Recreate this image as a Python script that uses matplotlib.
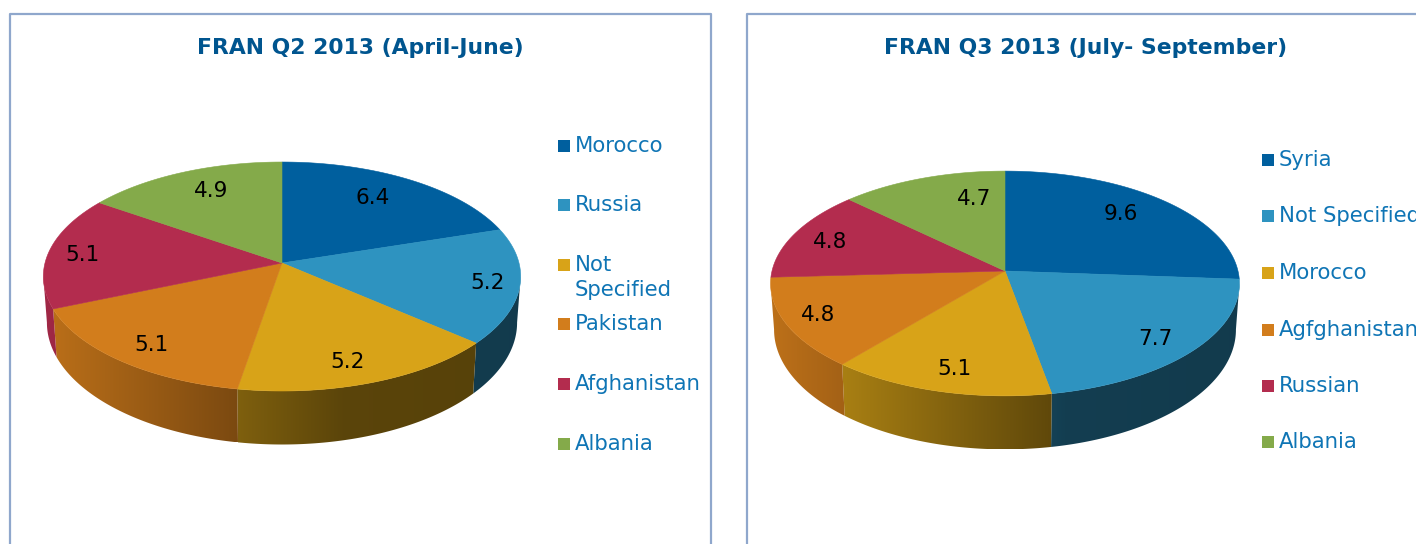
import numpy as np
from matplotlib import pyplot as plt
from matplotlib.colors import to_rgb
from matplotlib.patches import Polygon, Rectangle

# chart data
q2_title = 'FRAN Q2 2013 (April-June)'
q2_names = ['Morocco', 'Russia', 'Not\nSpecified', 'Pakistan', 'Afghanistan', 'Albania']
q2_values = [6.4, 5.2, 5.2, 5.1, 5.1, 4.9]

q3_title = 'FRAN Q3 2013 (July- September)'
q3_names = ['Syria', 'Not Specified', 'Morocco', 'Agfghanistan', 'Russian', 'Albania']
q3_values = [9.6, 7.7, 5.1, 4.8, 4.8, 4.7]

colors = ['#005f9e', '#2e93c0', '#d8a318', '#d27d1c', '#b32c4e', '#84aa4a']

# layout, in pixels of the picture
q2_label_pos = [(373, 198), (487, 283), (347, 362), (151, 345), (82, 255), (211, 191)]
q3_label_pos = [(1121, 214), (1155, 339), (954, 369), (818, 315), (830, 242), (974, 199)]
q2_legend_y = [146, 205, 265, 324, 384, 444]
q3_legend_y = [160, 216, 273, 330, 386, 442]

frame_color = '#8fa7cc'
legend_color = '#0f75b5'
title_color = '#00558f'

# how dark the side wall gets from left to right
shade_x = [0, 0.155, 0.39, 0.63, 1]
shade_k = [0.9, 0.78, 0.6, 0.42, 0.4]


def project(t, cx, cy, c, a, b):
    # circle angle (clockwise from the top) to screen, with perspective
    u = np.sin(t)
    v = -np.cos(t)
    den = 1 + b * v
    return cx + c * u / den, cy + a * v / den


def wall_bottom(x, y, cx, y_front):
    depth = 53.5 - (y_front - y) * 0.065
    return cx + (x - cx) * 0.985, y + depth


def draw_pie(ax, values, cx, cy, c, a, b):
    fracs = np.array(values) / sum(values)
    edges = np.concatenate([[0], np.cumsum(fracs)]) * 2 * np.pi
    _, y_front = project(np.pi, cx, cy, c, a, b)
    left = cx - c * 1.01
    width = 2 * c * 1.01

    # only the part of the rim between the left and right extremes shows a wall
    tt = np.linspace(0, 2 * np.pi, 1441)
    xx, _ = project(tt, cx, cy, c, a, b)
    t_right, t_left = tt[np.argmax(xx)], tt[np.argmin(xx)]

    for i in range(len(values)):
        t0 = max(edges[i], t_right)
        t1 = min(edges[i + 1], t_left)
        if t1 <= t0:
            continue
        ts = np.linspace(t0, t1, 120)
        x, y = project(ts, cx, cy, c, a, b)
        bx, by = wall_bottom(x, y, cx, y_front)
        pts = list(zip(x, y)) + list(zip(bx[::-1], by[::-1]))
        poly = Polygon(pts, transform=ax.transData)

        x0, x1 = min(x.min(), bx.min()), max(x.max(), bx.max())
        y0, y1 = min(y.min(), by.min()), max(y.max(), by.max())
        xs = np.linspace(x0, x1, 200)
        k = np.interp((xs - left) / width, shade_x, shade_k)
        rgb = np.outer(k, to_rgb(colors[i]))[None, :, :]
        im = ax.imshow(rgb, extent=(x0, x1, y1, y0), aspect='auto', zorder=2,
                       interpolation='bilinear')
        im.set_clip_path(poly)

    for i in range(len(values)):
        ts = np.linspace(edges[i], edges[i + 1], 120)
        x, y = project(ts, cx, cy, c, a, b)
        pts = [(cx, cy)] + list(zip(x, y))
        ax.add_patch(Polygon(pts, facecolor=colors[i], edgecolor=colors[i], lw=0.4, zorder=3))


def draw_panel(ax, title, title_x, names, values, label_pos, legend_x, legend_y):
    ax.text(title_x, 48, title, color=title_color, fontsize=15.75, fontweight='bold',
            ha='center', va='center')
    for v, (x, y) in zip(values, label_pos):
        ax.text(x, y, '%.1f' % v, color='black', fontsize=15.5, ha='center', va='center', zorder=5)
    for i, name in enumerate(names):
        y = legend_y[i]
        ax.add_patch(Rectangle((legend_x, y - 6), 12, 12, facecolor=colors[i], edgecolor='none'))
        ax.text(legend_x + 17, y - 10, name, color=legend_color, fontsize=15.3, va='top',
                linespacing=1.3)


fig = plt.figure(figsize=(14.16, 5.44), dpi=100)
ax = fig.add_axes([0, 0, 1, 1])

# panel frames run off the bottom and right of the picture
ax.plot([10, 10, 711, 711], [560, 14, 14, 560], color=frame_color, lw=1.6)
ax.plot([747, 747, 1430], [560, 14, 14], color=frame_color, lw=1.6)

draw_pie(ax, q2_values, 282, 263, 237, 112.9, -0.118)
draw_pie(ax, q3_values, 1005, 271, 233, 111, -0.111)

draw_panel(ax, q2_title, 360.5, q2_names, q2_values, q2_label_pos, 558, q2_legend_y)
draw_panel(ax, q3_title, 1085.5, q3_names, q3_values, q3_label_pos, 1262, q3_legend_y)

ax.set_xlim(0, 1416)
ax.set_ylim(544, 0)
ax.axis('off')

fig.savefig('out.png', dpi=100)
